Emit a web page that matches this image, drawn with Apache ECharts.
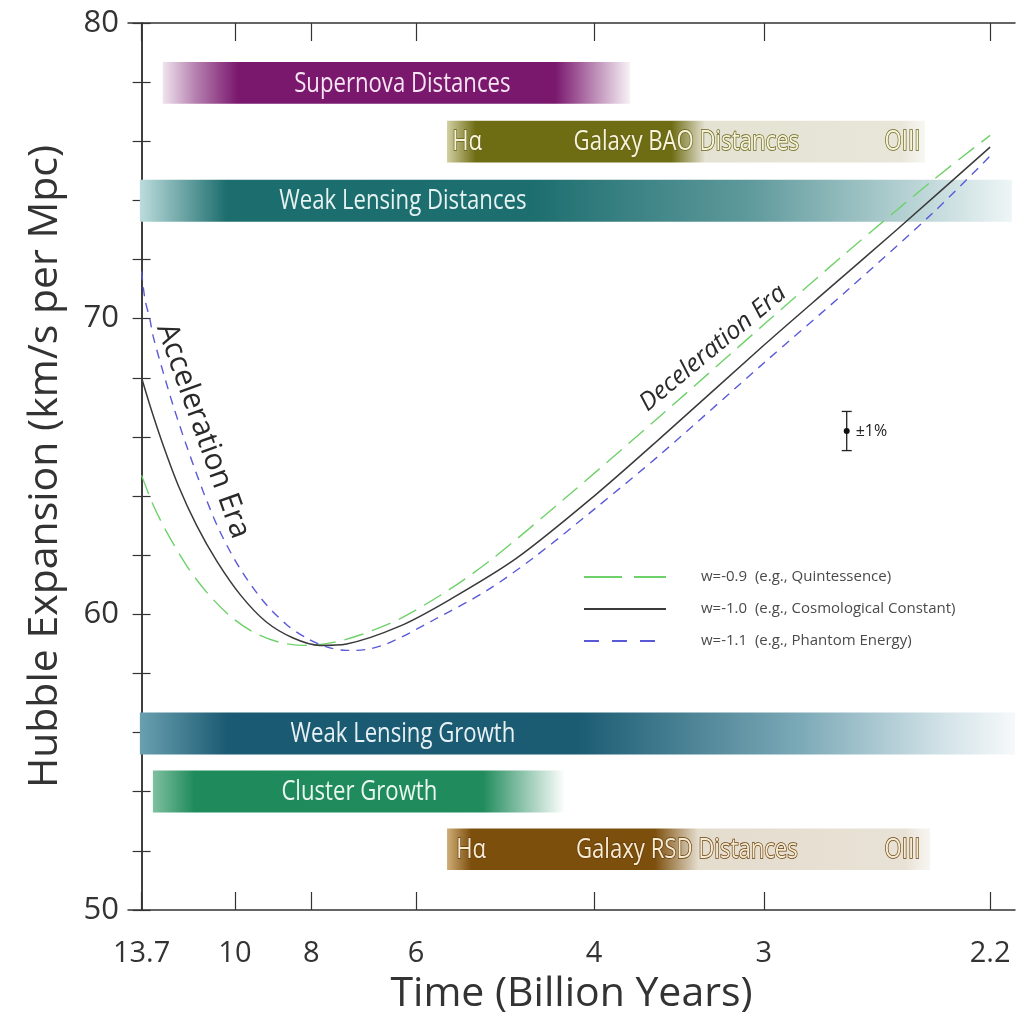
<!DOCTYPE html>
<html><head><meta charset="utf-8">
<script src="https://cdn.jsdelivr.net/npm/echarts@6/dist/echarts.min.js"></script>
<style>html,body{margin:0;padding:0;background:#fff}#c{width:1021px;height:1020px}</style>
</head><body><div id="c"></div>
<script>
// ---- x axis: redshift position of each age tick, and its label (Billion Years)
const tickZ = [0, 0.33, 0.6, 0.97, 1.6, 2.2, 3.0];
const tickLabels = ['13.7', '10', '8', '6', '4', '3', '2.2'];

// ---- curves: [z, H/(1+z)]
const seriesNames = ['w=-0.9  (e.g., Quintessence)', 'w=-1.0  (e.g., Cosmological Constant)', 'w=-1.1  (e.g., Phantom Energy)'];
const curveW09 = [[0,64.7],[0.041,63.7],[0.088,62.8],[0.159,61.65],[0.23,60.75],[0.312,59.95],[0.395,59.4],[0.489,59.05],[0.583,58.95],[0.678,59.05],[0.772,59.3],[0.913,59.85],[1.09,60.85],[1.243,61.9],[1.5,63.95],[1.833,66.7],[2.2,69.8],[2.5,72.3],[2.8,74.7],[3.0,76.2]];
const curveW10 = [[0,68.0],[0.035,66.9],[0.077,65.7],[0.13,64.35],[0.195,63.0],[0.266,61.8],[0.35,60.65],[0.44,59.75],[0.536,59.2],[0.63,58.95],[0.725,59.0],[0.913,59.6],[1.09,60.5],[1.326,61.9],[1.6,64.0],[1.833,65.95],[2.2,69.1],[2.434,71.05],[2.669,73.0],[3.0,75.8]];
const curveW11 = [[0,71.6],[0.012,70.65],[0.029,70.0],[0.041,69.4],[0.076,68.2],[0.112,67.05],[0.159,65.7],[0.218,64.15],[0.277,62.8],[0.348,61.55],[0.43,60.45],[0.513,59.65],[0.583,59.2],[0.654,58.9],[0.725,58.78],[0.76,58.78],[0.866,59.0],[1.031,59.8],[1.22,60.8],[1.384,61.9],[1.6,63.55],[1.833,65.4],[2.2,68.5],[2.5,71.0],[2.8,73.6],[3.0,75.5]];

// ---- probe bands: z extent and value extent
const bandNames = ['Supernova Distances', 'Galaxy BAO Distances', 'Weak Lensing Distances', 'Weak Lensing Growth', 'Cluster Growth', 'Galaxy RSD Distances'];
const bandStart = [0.075, 1.08, -0.006, -0.006, 0.04, 1.08];
const bandEnd = [1.727, 2.77, 3.077, 3.088, 1.497, 2.788];
const bandTop = [78.68, 76.69, 74.70, 56.68, 54.72, 52.76];
const bandBottom = [77.27, 75.28, 73.28, 55.26, 53.30, 51.35];
const bandLabelZ = [0.922, 1.926, 0.924, 0.924, 0.770, 1.928];
const tagText = ['H\u03b1', 'OIII', 'H\u03b1', 'OIII'];
const tagBand = [1, 1, 5, 5];
const tagZ = [1.151, 2.69, 1.165, 2.69];

// ---- annotations
const annoText = ['Acceleration Era', 'Deceleration Era'];
const annoZ = [0.217, 2.02];
const annoV = [66.2, 69.0];
const errZ = [2.493];
const errV = [66.2];
const errPct = [1];

// ---- styles
const FONT = '"Open Sans", "Noto Sans", sans-serif';
const bandStyle = [
  {stops: [[0,'rgba(122,24,110,0.12)'],[0.07,'rgba(122,24,110,0.55)'],[0.16,'#7a186e'],[0.84,'#7a186e'],[1,'rgba(122,24,110,0.06)']], text: '#f6e6f3', stroke: null},
  {stops: [[0,'#d2cfa2'],[0.06,'#6f6d14'],[0.47,'#6f6d14'],[0.54,'#e4e2d2'],[0.95,'#e8e6d9'],[1,'rgba(240,238,228,0.5)']], text: '#f7f3d8', stroke: '#66641c'},
  {stops: [[0,'#bcdcdc'],[0.1,'#1c6d6e'],[0.45,'#1d6e6f'],[0.7,'#5f9a9c'],[0.88,'#b5d1d3'],[1,'#eef5f6']], text: '#e6f2f2', stroke: null},
  {stops: [[0,'#6aa0b0'],[0.1,'#1a5a72'],[0.5,'#1b5c73'],[0.75,'#7aa8b6'],[0.92,'#d3e3e8'],[1,'#f6f9fa']], text: '#e8f1f5', stroke: null},
  {stops: [[0,'#7fc0a0'],[0.1,'#1f8b5c'],[0.8,'#208b5c'],[1,'rgba(31,139,92,0)']], text: '#eaf6ef', stroke: null},
  {stops: [[0,'#cfae78'],[0.05,'#7d4f0d'],[0.43,'#7d4f0d'],[0.52,'#e4dccd'],[0.95,'#e8e2d6'],[1,'rgba(240,236,228,0.5)']], text: '#f8ead0', stroke: '#633e0c'}
];
const annoRotDeg = [-70.3, 39.7];
const annoFont = [30, 25];
const annoItalic = [false, true];

const chart = echarts.init(document.getElementById('c'));

function tickLabelFor(v) {
  let best = 0;
  for (let i = 1; i < tickZ.length; i++) if (Math.abs(tickZ[i] - v) < Math.abs(tickZ[best] - v)) best = i;
  return tickLabels[best];
}

function renderBand(params, api) {
  const i = api.value(4);
  const p1 = api.coord([api.value(0), api.value(2)]);
  const p2 = api.coord([api.value(1), api.value(3)]);
  const st = bandStyle[i];
  const cy = (p1[1] + p2[1]) / 2;
  const grad = new echarts.graphic.LinearGradient(0, 0, 1, 0, st.stops.map(s => ({offset: s[0], color: s[1]})));
  const children = [{type: 'rect', shape: {x: p1[0], y: p1[1], width: p2[0] - p1[0], height: p2[1] - p1[1]}, style: {fill: grad}}];
  const mk = (txt, z) => ({
    type: 'text', x: api.coord([z, 60])[0], y: cy + 1, scaleX: 0.82,
    style: {text: txt, fill: st.text, stroke: st.stroke || null, lineWidth: st.stroke ? 1.6 : 0,
      fontSize: 27, fontFamily: FONT, align: 'center', verticalAlign: 'middle'}
  });
  children.push(mk(bandNames[i], bandLabelZ[i]));
  tagBand.forEach((b, k) => { if (b === i) children.push(mk(tagText[k], tagZ[k])); });
  return {type: 'group', children};
}

function renderAnno(params, api) {
  const i = params.dataIndex;
  const p = api.coord([api.value(0), api.value(1)]);
  return {type: 'text', x: p[0], y: p[1], rotation: annoRotDeg[i] * Math.PI / 180,
    style: {text: annoText[i], fill: '#2a2a2a', fontSize: annoFont[i], fontFamily: FONT,
      fontStyle: annoItalic[i] ? 'italic' : 'normal', align: 'center', verticalAlign: 'middle'}};
}

function renderErr(params, api) {
  const z = api.value(0), v = api.value(1), pct = api.value(2);
  const c = api.coord([z, v]);
  const top = api.coord([z, v * (1 + pct / 100)]);
  const bot = api.coord([z, v * (1 - pct / 100)]);
  const ls = {stroke: '#222', lineWidth: 1.3};
  return {type: 'group', children: [
    {type: 'line', shape: {x1: c[0], y1: top[1], x2: c[0], y2: bot[1]}, style: ls},
    {type: 'line', shape: {x1: c[0] - 5, y1: top[1], x2: c[0] + 5, y2: top[1]}, style: ls},
    {type: 'line', shape: {x1: c[0] - 5, y1: bot[1], x2: c[0] + 5, y2: bot[1]}, style: ls},
    {type: 'circle', shape: {cx: c[0], cy: c[1], r: 3}, style: {fill: '#111'}},
    {type: 'text', x: c[0] + 9, y: c[1], style: {text: '\u00b1' + pct + '%', fill: '#222', fontSize: 16, fontFamily: FONT, align: 'left', verticalAlign: 'middle'}}
  ]};
}

const axisLine = {show: true, lineStyle: {color: '#333', width: 1.5}};
const X_MIN = -0.048, X_MAX = 3.088;
const legendDash = [[38, 12], null, [15, 13]];

chart.setOption({
  animation: false,
  backgroundColor: '#fff',
  grid: {left: 128, right: 6, top: 23, bottom: 108, containLabel: false},
  legend: {
    orient: 'vertical', left: 578, top: 563, itemWidth: 82, itemHeight: 14, itemGap: 14,
    itemStyle: {opacity: 0},
    data: seriesNames.map((n, i) => legendDash[i] ? {name: n, lineStyle: {type: legendDash[i]}} : {name: n}),
    textStyle: {fontSize: 15, color: '#4a4a4a', fontFamily: FONT, lineHeight: 18, padding: [0, 0, 0, 30]}
  },
  xAxis: [
    {type: 'value', min: X_MIN, max: X_MAX, position: 'bottom', axisLine,
      axisTick: {inside: true, length: 18, customValues: tickZ, lineStyle: {color: '#333', width: 1.2}},
      axisLabel: {customValues: tickZ, formatter: tickLabelFor, fontSize: 29, color: '#333', margin: 29, fontFamily: FONT},
      splitLine: {show: false},
      name: 'Time (Billion Years)', nameLocation: 'middle', nameGap: 64,
      nameTextStyle: {fontSize: 41, color: '#333', fontFamily: FONT}},
    {type: 'value', min: X_MIN, max: X_MAX, position: 'top', axisLine,
      axisTick: {inside: true, length: 18, customValues: tickZ, lineStyle: {color: '#333', width: 1.2}},
      axisLabel: {show: false}, splitLine: {show: false}}
  ],
  yAxis: [
    {type: 'value', min: 50, max: 80, interval: 2, position: 'left', axisLine,
      axisTick: {inside: true, length: 9, lineStyle: {color: '#333', width: 1.2}},
      axisLabel: {formatter: v => (v % 10 === 0 ? String(v) : ''), fontSize: 31, color: '#333', margin: 9, fontFamily: FONT},
      splitLine: {show: false},
      name: 'Hubble Expansion (km/s per Mpc)', nameLocation: 'middle', nameGap: 62,
      nameTextStyle: {fontSize: 41, color: '#333', fontFamily: FONT}},
    {type: 'value', min: 50, max: 80, interval: 2, position: 'right', axisLine,
      axisTick: {inside: true, length: 9, lineStyle: {color: '#333', width: 1.2}},
      axisLabel: {show: false}, splitLine: {show: false}}
  ],
  series: [
    {type: 'custom', name: 'bands', silent: true, z: 1, renderItem: renderBand, encode: {x: [0, 1], y: [2, 3]},
      data: bandNames.map((n, i) => [bandStart[i], bandEnd[i], bandTop[i], bandBottom[i], i])},
    {type: 'line', name: seriesNames[0], data: curveW09, symbol: 'none', smooth: 0.3, z: 3,
      lineStyle: {color: '#6fd16a', width: 1.4, type: [20, 9]}, itemStyle: {color: '#6fd16a'}},
    {type: 'line', name: seriesNames[1], data: curveW10, symbol: 'none', smooth: 0.3, z: 3,
      lineStyle: {color: '#3a3a3a', width: 1.5}, itemStyle: {color: '#3a3a3a'}},
    {type: 'line', name: seriesNames[2], data: curveW11, symbol: 'none', smooth: 0.3, z: 3,
      lineStyle: {color: '#5a5ad8', width: 1.4, type: [9, 7]}, itemStyle: {color: '#5a5ad8'}},
    {type: 'custom', name: 'annotations', silent: true, z: 4, renderItem: renderAnno, encode: {x: 0, y: 1},
      data: annoText.map((t, i) => [annoZ[i], annoV[i]])},
    {type: 'custom', name: 'errorbar', silent: true, z: 4, renderItem: renderErr, encode: {x: 0, y: 1},
      data: errZ.map((z, i) => [z, errV[i], errPct[i]])}
  ]
});
</script>
</body></html>
